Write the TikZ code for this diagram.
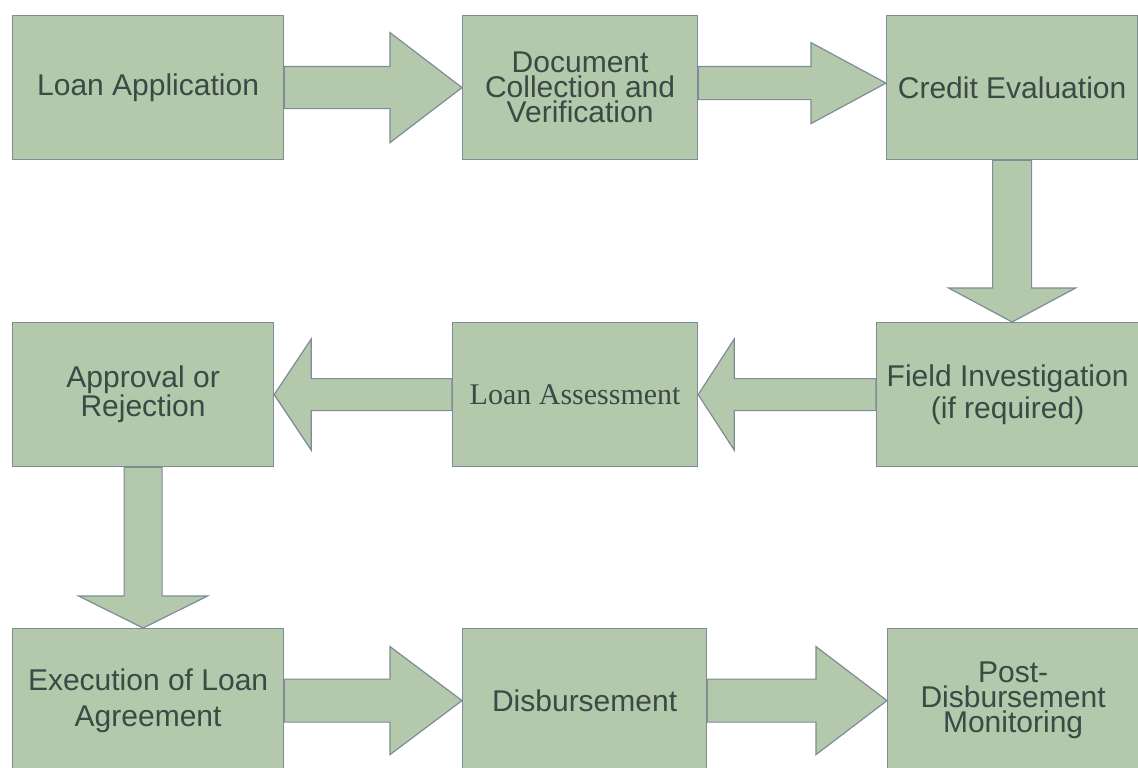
\documentclass[tikz,border=0pt]{standalone}
\usepackage{fontspec}
\setmainfont{Liberation Sans}
\newfontfamily\serifA{Liberation Serif}
\usetikzlibrary{calc}
\definecolor{boxfill}{RGB}{180,200,172}
\definecolor{boxline}{RGB}{125,140,150}
\definecolor{txt}{RGB}{58,74,68}
\begin{document}
\begin{tikzpicture}[x=1pt,y=-1pt,
  stepbox/.style={draw=boxline, fill=boxfill, line width=1.2pt, inner sep=0pt,
    anchor=north west, align=center, text=txt, minimum height=144pt,
    font=\fontsize{30}{25}\selectfont},
  barrow/.style={draw=boxline, fill=boxfill, line width=1.2pt, line join=miter}]
\useasboundingbox (0,0) rectangle (1138,768);
\clip (0,0) rectangle (1138,768);
% row 1
\node[stepbox, minimum width=271pt] (la) at (12,15) {Loan Application};
\node[stepbox, minimum width=235pt] (dc) at (462,15) {Document\\Collection and\\Verification};
\node[stepbox, minimum width=251pt] (ce) at (886,15) {Credit Evaluation};
% row 2
\node[stepbox, minimum width=261pt] (ap) at (12,322) {Approval or\\Rejection};
\node[stepbox, minimum width=245pt, font=\serifA\fontsize{30}{36}\selectfont] (as) at (452,322) {Loan Assessment};
\node[stepbox, minimum width=262pt, font=\fontsize{30}{32}\selectfont] (fi) at (876,322) {Field Investigation\\(if required)};
% row 3
\node[stepbox, minimum width=271pt, font=\fontsize{30}{36.5}\selectfont] (ex) at (12,628) {Execution of Loan\\Agreement};
\node[stepbox, minimum width=244pt] (di) at (462,628) {Disbursement};
\node[stepbox, minimum width=251pt] (po) at (887,628) {Post-\\Disbursement\\Monitoring};
% block arrows
\draw[barrow] let \p1=(la.east), \p2=(dc.west) in
  (\x1,\y1+21) -- (\x2-72,\y1+21) -- (\x2-72,\y1+55) -- (\x2,\y1)
  -- (\x2-72,\y1-55) -- (\x2-72,\y1-21) -- (\x1,\y1-21) -- cycle;
\draw[barrow] let \p1=(dc.east), \p2=(ce.west) in
  (\x1,\y1+4.5+16.5) -- (\x2-75,\y1+4.5+16.5) -- (\x2-75,\y1+4.5+40.5) -- (\x2,\y1+4.5)
  -- (\x2-75,\y1+4.5-40.5) -- (\x2-75,\y1+4.5-16.5) -- (\x1,\y1+4.5-16.5) -- cycle;
\draw[barrow] let \p1=(ce.south), \p2=(fi.north) in
  (\x1-19.5,\y1) -- (\x1-19.5,\y2+34) -- (\x1-63.5,\y2+34) -- (\x1,\y2)
  -- (\x1+63.5,\y2+34) -- (\x1+19.5,\y2+34) -- (\x1+19.5,\y1) -- cycle;
\draw[barrow] let \p1=(fi.west), \p2=(as.east) in
  (\x1,\y1+16) -- (\x2+36,\y1+16) -- (\x2+36,\y1+55.5) -- (\x2,\y1)
  -- (\x2+36,\y1-55.5) -- (\x2+36,\y1-16) -- (\x1,\y1-16) -- cycle;
\draw[barrow] let \p1=(as.west), \p2=(ap.east) in
  (\x1,\y1+16) -- (\x2+37,\y1+16) -- (\x2+37,\y1+55.5) -- (\x2,\y1)
  -- (\x2+37,\y1-55.5) -- (\x2+37,\y1-16) -- (\x1,\y1-16) -- cycle;
\draw[barrow] let \p1=(ap.south), \p2=(ex.north) in
  (\x1-19,\y1) -- (\x1-19,\y2+32) -- (\x1-64.5,\y2+32) -- (\x1,\y2)
  -- (\x1+64.5,\y2+32) -- (\x1+19,\y2+32) -- (\x1+19,\y1) -- cycle;
\draw[barrow] let \p1=(ex.east), \p2=(di.west) in
  (\x1,\y1+21.5) -- (\x2-72,\y1+21.5) -- (\x2-72,\y1+54) -- (\x2,\y1)
  -- (\x2-72,\y1-54) -- (\x2-72,\y1-21.5) -- (\x1,\y1-21.5) -- cycle;
\draw[barrow] let \p1=(di.east), \p2=(po.west) in
  (\x1,\y1+21.5) -- (\x2-71,\y1+21.5) -- (\x2-71,\y1+54) -- (\x2,\y1)
  -- (\x2-71,\y1-54) -- (\x2-71,\y1-21.5) -- (\x1,\y1-21.5) -- cycle;
\end{tikzpicture}
\end{document}
